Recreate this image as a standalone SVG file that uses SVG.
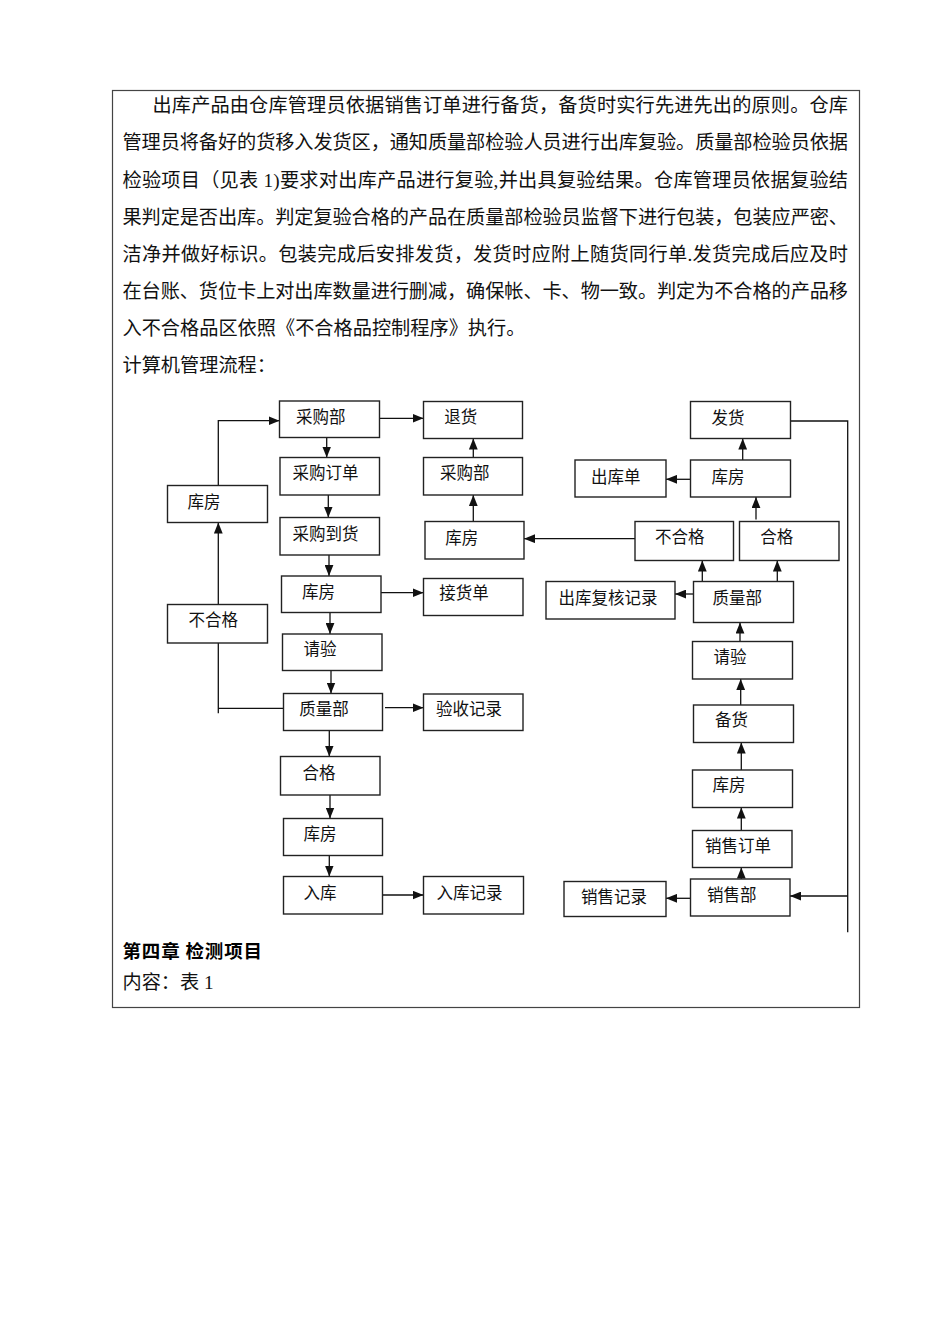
<svg xmlns="http://www.w3.org/2000/svg" width="950" height="1344" viewBox="0 0 950 1344">
<style>
.body{font-family:"Liberation Serif","Noto Sans CJK SC",serif;font-size:19.2px;fill:#111}
.head{font-family:"Noto Sans CJK SC",sans-serif;font-size:18.5px;font-weight:bold;fill:#000}
.box rect{fill:#fff;stroke:#222;stroke-width:1.4}
.box text{font-family:"Liberation Serif","Noto Sans CJK SC",serif;font-size:16.5px;fill:#111}
#connectors path{fill:none;stroke:#111;stroke-width:1.3}
.arr{marker-end:url(#ah)}
</style>
<defs>
<marker id="ah" markerUnits="userSpaceOnUse" markerWidth="11" markerHeight="9" refX="10" refY="4" orient="auto" viewBox="0 0 10 8">
<path d="M0,0 L10,4 L0,8 z" fill="#111"/>
</marker>
</defs>
<rect x="0" y="0" width="950" height="1344" fill="#fff"/>
<rect id="frame" x="112.5" y="90.5" width="747" height="917" fill="none" stroke="#444" stroke-width="1.2"/>
<g id="paragraph">
<text class="body" x="152.5" y="112.3" textLength="695.5" lengthAdjust="spacing">出库产品由仓库管理员依据销售订单进行备货，备货时实行先进先出的原则。仓库</text>
<text class="body" x="122.5" y="149.4" textLength="725.5" lengthAdjust="spacing">管理员将备好的货移入发货区，通知质量部检验人员进行出库复验。质量部检验员依据</text>
<text class="body" x="122.5" y="186.5" textLength="725.5" lengthAdjust="spacing">检验项目（见表 1)要求对出库产品进行复验,并出具复验结果。仓库管理员依据复验结</text>
<text class="body" x="122.5" y="223.6" textLength="725.5" lengthAdjust="spacing">果判定是否出库。判定复验合格的产品在质量部检验员监督下进行包装，包装应严密、</text>
<text class="body" x="122.5" y="260.7" textLength="725.5" lengthAdjust="spacing">洁净并做好标识。包装完成后安排发货，发货时应附上随货同行单.发货完成后应及时</text>
<text class="body" x="122.5" y="297.8" textLength="725.5" lengthAdjust="spacing">在台账、货位卡上对出库数量进行删减，确保帐、卡、物一致。判定为不合格的产品移</text>
<text class="body" x="122.5" y="334.9">入不合格品区依照《不合格品控制程序》执行。</text>
<text class="body" x="122.5" y="372">计算机管理流程：</text>
</g>
<g id="connectors">
<path class="arr" d="M218.3 485.7 V420.7 H279.5"/>
<path class="arr" d="M218.3 604.5 V522.5"/>
<path d="M218.3 643 V713.3 M218.3 708.3 H283.5"/>
<path class="arr" d="M379.5 418.3 H423.5"/>
<path class="arr" d="M326.7 437.5 V457.5"/>
<path class="arr" d="M328.3 495 V517.5"/>
<path class="arr" d="M329 555 V576"/>
<path class="arr" d="M381 592.7 H423.5"/>
<path class="arr" d="M330 612.5 V634"/>
<path class="arr" d="M331 670.5 V693.5"/>
<path class="arr" d="M385 707.7 H423.5"/>
<path class="arr" d="M329.3 730.5 V756.5"/>
<path class="arr" d="M330 795 V818.5"/>
<path class="arr" d="M329.3 855.5 V876.5"/>
<path class="arr" d="M382.5 895 H423.5"/>
<path class="arr" d="M473.3 521.5 V495"/>
<path class="arr" d="M473.3 457.5 V438.5"/>
<path class="arr" d="M635 538.7 H524"/>
<path d="M790.5 421 H847.7 V932.3"/>
<path class="arr" d="M847.7 896 H790"/>
<path class="arr" d="M742.7 460 V438.5"/>
<path class="arr" d="M690.5 479.3 H666"/>
<path class="arr" d="M756 519.5 V497"/>
<path class="arr" d="M702.3 585 V560.5"/>
<path class="arr" d="M777.3 581.5 V560.5"/>
<path class="arr" d="M693.5 594 H675"/>
<path class="arr" d="M740 641.5 V622.5"/>
<path class="arr" d="M740.7 705 V679"/>
<path class="arr" d="M741.3 770 V742.5"/>
<path class="arr" d="M741.3 830.5 V807.5"/>
<path class="arr" d="M741.3 879 V867.5"/>
<path class="arr" d="M690.5 898.3 H666"/>
</g>
<g id="n-cgb" class="box"><rect x="279.5" y="401" width="100" height="36.5"/><text x="296" y="422.8">采购部</text></g>
<g id="n-th" class="box"><rect x="423.5" y="401.5" width="99" height="37"/><text x="444.3" y="422.8">退货</text></g>
<g id="n-cgdd" class="box"><rect x="280" y="457.5" width="99.5" height="37.5"/><text x="292.6" y="479.4">采购订单</text></g>
<g id="n-cgb2" class="box"><rect x="423.5" y="457.5" width="99" height="37.5"/><text x="440" y="479.4">采购部</text></g>
<g id="n-kf-l" class="box"><rect x="167.5" y="485.5" width="100" height="37"/><text x="187.6" y="508.4">库房</text></g>
<g id="n-cgdh" class="box"><rect x="280" y="517.5" width="99.5" height="37.5"/><text x="292.6" y="540.1">采购到货</text></g>
<g id="n-kf-mr" class="box"><rect x="425" y="521.5" width="99" height="37.5"/><text x="445.3" y="543.8">库房</text></g>
<g id="n-kf1" class="box"><rect x="281.5" y="576" width="99.5" height="36.5"/><text x="302" y="597.8">库房</text></g>
<g id="n-jhd" class="box"><rect x="423.5" y="578.5" width="99.5" height="37"/><text x="439.3" y="599.4">接货单</text></g>
<g id="n-bhg-l" class="box"><rect x="167.5" y="604.5" width="100" height="38.5"/><text x="188.6" y="626.1">不合格</text></g>
<g id="n-qy1" class="box"><rect x="282.5" y="634" width="99.5" height="36.5"/><text x="303.6" y="655.1">请验</text></g>
<g id="n-zlb1" class="box"><rect x="283.5" y="693.5" width="99" height="37"/><text x="299.3" y="715.4">质量部</text></g>
<g id="n-ysjl" class="box"><rect x="423.5" y="694" width="99.5" height="36.5"/><text x="436" y="715.4">验收记录</text></g>
<g id="n-hg1" class="box"><rect x="280.5" y="756.5" width="99.5" height="38.5"/><text x="302.6" y="778.8">合格</text></g>
<g id="n-kf2" class="box"><rect x="283.5" y="818.5" width="99" height="37"/><text x="303.6" y="840.4">库房</text></g>
<g id="n-rk" class="box"><rect x="283.5" y="876.5" width="99" height="37.5"/><text x="303.6" y="898.8">入库</text></g>
<g id="n-rkjl" class="box"><rect x="423.5" y="876.5" width="100" height="37.5"/><text x="436.6" y="898.8">入库记录</text></g>
<g id="n-fh" class="box"><rect x="690.5" y="401.5" width="100" height="37"/><text x="711.6" y="424.4">发货</text></g>
<g id="n-ckd" class="box"><rect x="575" y="460" width="91" height="37"/><text x="591" y="483.4">出库单</text></g>
<g id="n-kf-r1" class="box"><rect x="690.5" y="460" width="100" height="37"/><text x="711.6" y="483.4">库房</text></g>
<g id="n-bhg-r" class="box"><rect x="635" y="521.5" width="98.5" height="39"/><text x="655" y="542.8">不合格</text></g>
<g id="n-hg-r" class="box"><rect x="739.5" y="521.5" width="99.5" height="39"/><text x="760.3" y="542.8">合格</text></g>
<g id="n-ckfhjl" class="box"><rect x="546" y="581.5" width="129" height="37.5"/><text x="558.6" y="604.4">出库复核记录</text></g>
<g id="n-zlb-r" class="box"><rect x="693.5" y="581.5" width="100" height="41"/><text x="712.6" y="604.4">质量部</text></g>
<g id="n-qy-r" class="box"><rect x="692.5" y="641.5" width="100" height="37.5"/><text x="713.6" y="663.4">请验</text></g>
<g id="n-bh" class="box"><rect x="693.5" y="705" width="100" height="37.5"/><text x="715" y="726.1">备货</text></g>
<g id="n-kf-r2" class="box"><rect x="692.5" y="770" width="100" height="37.5"/><text x="712.6" y="791.1">库房</text></g>
<g id="n-xsdd" class="box"><rect x="692.5" y="830.5" width="99.5" height="37"/><text x="705" y="852.1">销售订单</text></g>
<g id="n-xsb" class="box"><rect x="690.5" y="879" width="99.5" height="37"/><text x="707" y="901.1">销售部</text></g>
<g id="n-xsjl" class="box"><rect x="564" y="881.5" width="102" height="35"/><text x="581" y="902.8">销售记录</text></g>
<g id="footer">
<text class="head" x="122.5" y="957.5" textLength="139.5" lengthAdjust="spacing">第四章 检测项目</text>
<text class="body" x="122.5" y="988.8">内容：表 1</text>
</g>
</svg>
